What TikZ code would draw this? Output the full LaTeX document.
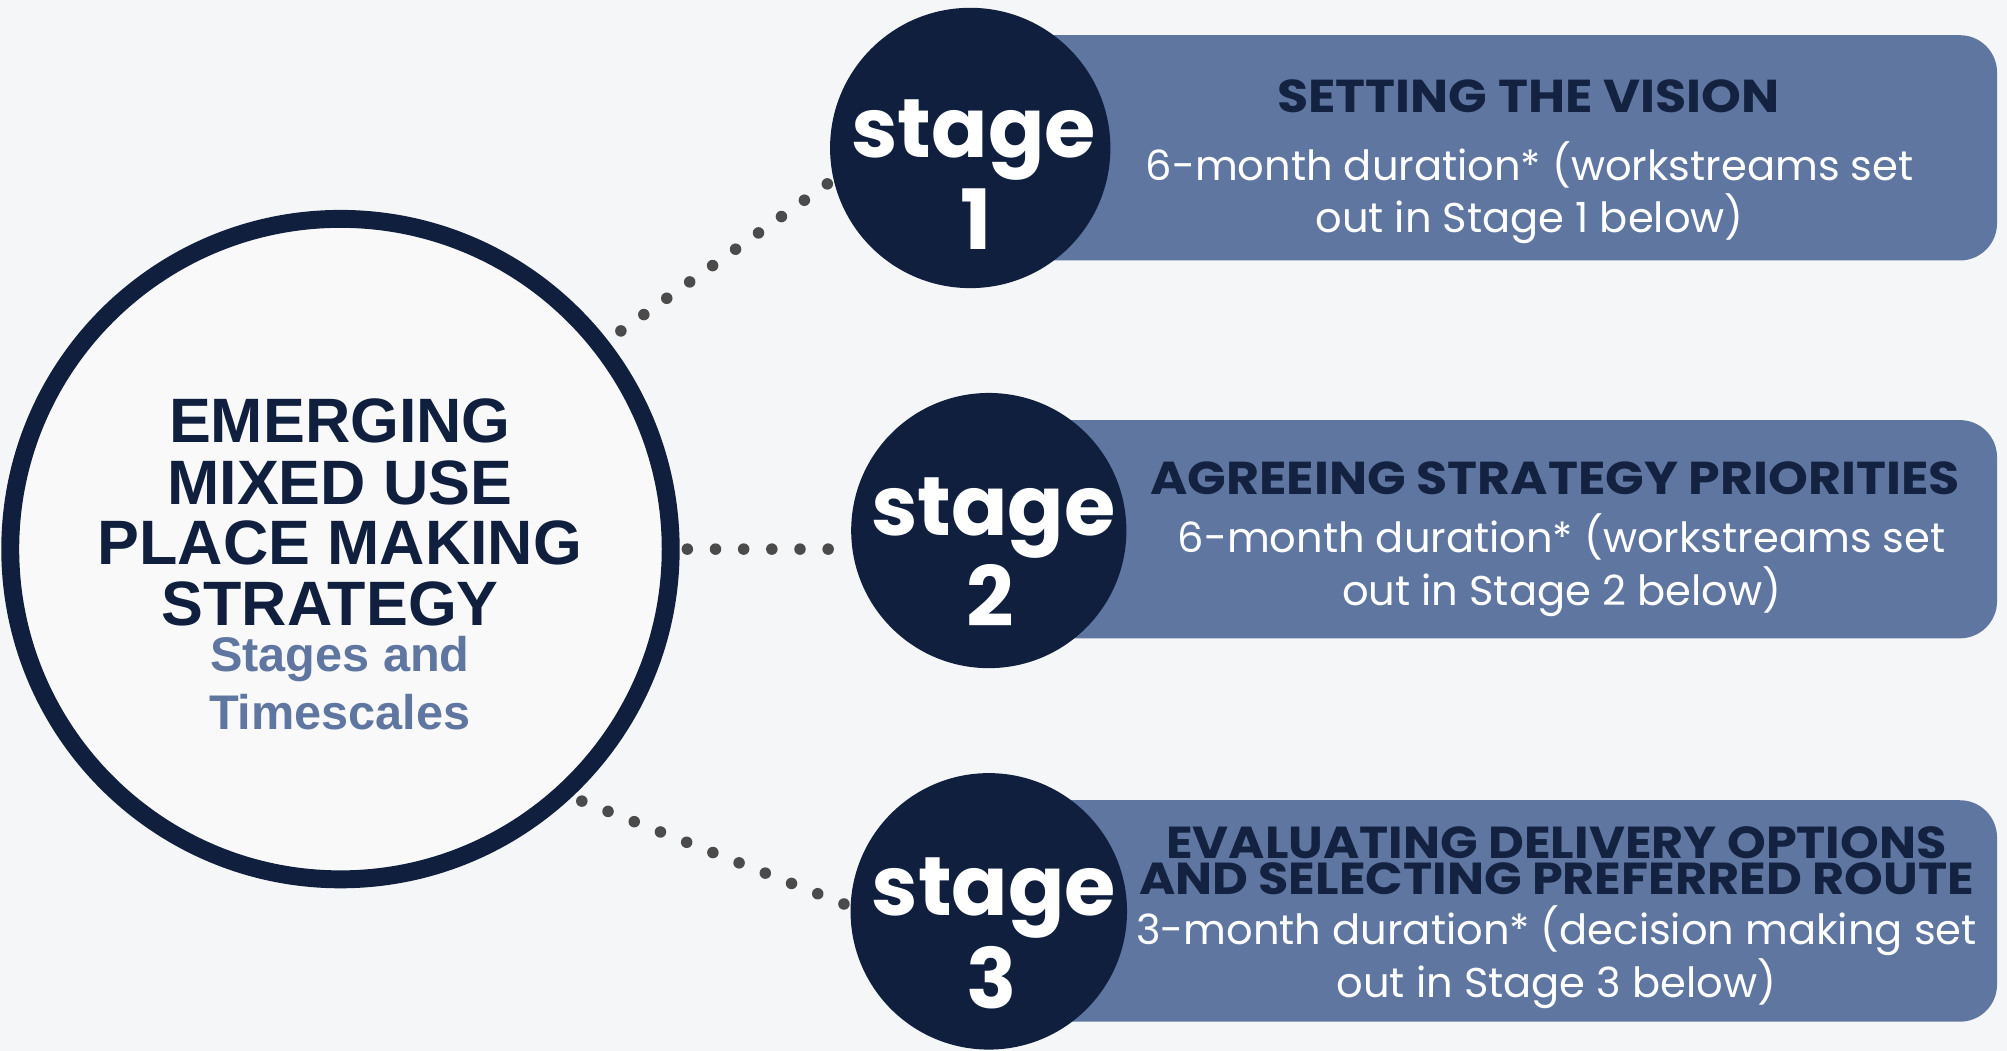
\documentclass[tikz,border=0pt]{standalone}
\usepackage{fontspec}
\setmainfont{Liberation Sans}
\newfontfamily\pop{Poppins}
\newfontfamily\popwide{Poppins}[FakeStretch=1.1]
\usetikzlibrary{calc}
\definecolor{bg}{RGB}{245,246,247}
\definecolor{inner}{RGB}{249,249,250}
\definecolor{navy}{RGB}{15,31,61}
\definecolor{slate}{RGB}{95,118,160}
\definecolor{titlenavy}{RGB}{20,34,65}
\definecolor{dotgray}{RGB}{75,75,75}
\begin{document}
\begin{tikzpicture}[x=1pt,y=-1pt,
  dotline/.style={draw=dotgray, line width=9pt, line cap=round, dash pattern=on 0pt off 22pt},
  stagebox/.style={fill=slate, rounded corners=29pt, minimum width=800pt, anchor=north west, inner sep=0pt},
  stagecirc/.style={circle, fill=navy, minimum size=216pt, inner sep=0pt},
  stageword/.style={text=white, inner sep=0pt, anchor=base, font=\pop\bfseries\fontsize{65}{65}\selectfont},
  boxtitle/.style={text=titlenavy, inner sep=0pt, anchor=base, align=center, font=\popwide\bfseries\fontsize{36}{28}\selectfont},
  boxbody/.style={text=white, inner sep=0pt, anchor=base, align=center, font=\pop\fontsize{32.5}{41}\selectfont},
  maintitle/.style={text=navy, inner sep=0pt, anchor=base, font=\bfseries\fontsize{49}{49}\selectfont},
  subtitle/.style={text=slate, inner sep=0pt, anchor=base, align=center, font=\bfseries\fontsize{38}{45}\selectfont}
]
\fill[bg] (0,0) rectangle (1568,821);
\useasboundingbox (0,0) rectangle (1568,821);

% central circle
\node[circle, draw=navy, fill=inner, line width=14pt, minimum size=516pt, inner sep=0pt] (main) at (266,429) {};

% boxes
\node[stagebox, minimum height=176pt] (b1) at (760,27.3) {};
\node[stagebox, minimum height=170.5pt] (b2) at (760,328) {};
\node[stagebox, minimum height=173pt] (b3) at (760,625) {};

% stage circles
\node[stagecirc, minimum size=219pt] (s1) at (758,115.6) {};
\node[stagecirc, minimum size=215pt] (s2) at (772.5,414.5) {};
\node[stagecirc] (s3) at (772.5,712) {};

% connectors
\draw[dotline, dash phase=9.4pt] (main.38.6) -- (s1.193);
\draw[dotline, dash phase=16pt] (main.east) -- (main.east -| s2.west);
\draw[dotline, dash phase=13.6pt] (main.-47) -- (s3.178);

% stage words
\node[stageword] (w1) at (760.6,123) {stage};
\node[stageword] (n1) at (763,195) {1};
\node[stageword] (w2) at (776,418) {stage};
\node[stageword] (n2) at (774,489.6) {2};
\node[stageword] (w3) at (776.5,715) {stage};
\node[stageword] (n3) at (775,788) {3};

% main text
\node[maintitle] (m1) at (265.5,346) {EMERGING};
\node[maintitle] (m2) at (265.5,394) {MIXED USE};
\node[maintitle] (m3) at (265.5,441) {PLACE MAKING};
\node[maintitle] (m4) at (258,489) {STRATEGY};
\node[subtitle] (m5) at (265.5,570) {Stages and\\Timescales};

% box 1 text
\node[boxtitle] (t1) at (1194,88) {SETTING THE VISION};
\node[boxbody] (d1) at (1195,182) {6-month duration* (workstreams set\\out in Stage 1 below)};

% box 2 text
\node[boxtitle] (t2) at (1215,386) {AGREEING STRATEGY PRIORITIES};
\node[boxbody] (d2) at (1220,473) {6-month duration* (workstreams set\\out in Stage 2 below)};

% box 3 text
\node[boxtitle, font=\popwide\bfseries\fontsize{35}{28}\selectfont] (t3) at (1216,699) {EVALUATING DELIVERY OPTIONS\\AND SELECTING PREFERRED ROUTE};
\node[boxbody] (d3) at (1216,779) {3-month duration* (decision making set\\out in Stage 3 below)};
\end{tikzpicture}
\end{document}
